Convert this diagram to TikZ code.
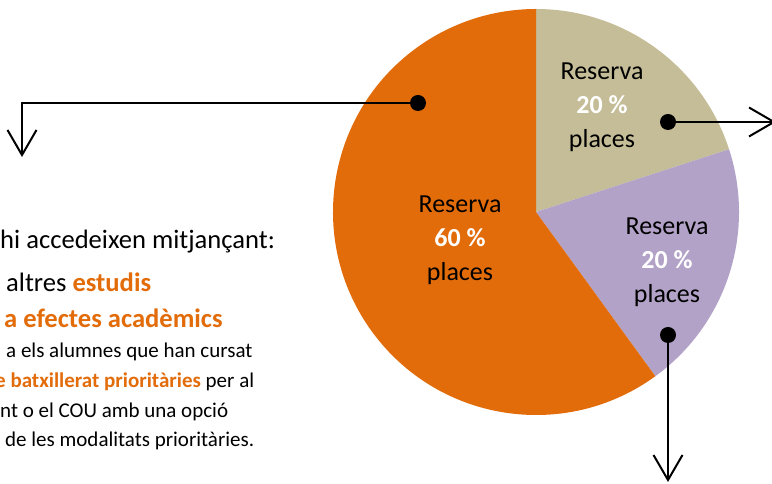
\documentclass[tikz,border=0pt]{standalone}
\usepackage{fontspec}
\setmainfont{Carlito}
\usetikzlibrary{arrows.meta}

\definecolor{pieorange}{HTML}{E36C0A}
\definecolor{pietan}{HTML}{C4BD97}
\definecolor{pielilac}{HTML}{B2A2C7}

\tikzset{
  dot/.style={circle, fill=black, inner sep=0pt, minimum size=16pt},
  share/.style={align=center, font=\fontsize{26}{34}\selectfont},
  big/.style={anchor=west, inner sep=0pt, font=\fontsize{26.6}{30}\selectfont},
  small/.style={anchor=west, inner sep=0pt, font=\fontsize{21}{25}\selectfont},
  link/.style={line width=2pt, -{Straight Barb[length=25pt, width=29pt, line width=2pt]}}
}

\begin{document}
\begin{tikzpicture}[x=1pt, y=1pt]
        \useasboundingbox (0,0) rectangle (772,484);
        \def \radius {203pt}
        \coordinate (O) at (536,272);

        % pie
        \fill[pietan] (O) -- ++(90:\radius) arc[start angle=90, end angle=18, radius=\radius] -- cycle;
        \fill[pielilac] (O) -- ++(18:\radius) arc[start angle=18, end angle=-54, radius=\radius] -- cycle;
        \fill[pieorange] (O) -- ++(-54:\radius) arc[start angle=-54, end angle=-270, radius=\radius] -- cycle;

        \node[share] (P60) at (460,244) {Reserva\\\textcolor{white}{\textbf{60 \%}}\\places};
        \node[share] (T20) at (602,377) {Reserva\\\textcolor{white}{\textbf{20 \%}}\\places};
        \node[share] (L20) at (667,222) {Reserva\\\textcolor{white}{\textbf{20 \%}}\\places};

        % connectors
        \node[dot] (A) at (418,381) {};
        \node[dot] (B) at (668,362) {};
        \node[dot] (C) at (668,149) {};
        \coordinate (endA) at (22,327);
        \coordinate (endB) at (776,362);
        \coordinate (endC) at (668,2);

        \draw[link] (A) -| (endA);
        \draw[link] (B) -- (endB);
        \draw[link] (C) -- (endC);

        % text
        \node[big] (t1) at (0,242) {hi accedeixen mitjançant:};
        \node[big] (t2) at (6,202) {altres \textcolor{pieorange}{\textbf{estudis}}};
        \node[big] (t3) at (4,166) {\textcolor{pieorange}{\textbf{a efectes acadèmics}}};
        \node[small] (t4) at (6,132) {a els alumnes que han cursat};
        \node[small] (t5) at (-5,102) {\textcolor{pieorange}{\textbf{e batxillerat prioritàries}} per al};
        \node[small] (t6) at (0,72) {nt o el COU amb una opció};
        \node[small] (t7) at (5,43) {de les modalitats prioritàries.};
      \end{tikzpicture}
\end{document}
